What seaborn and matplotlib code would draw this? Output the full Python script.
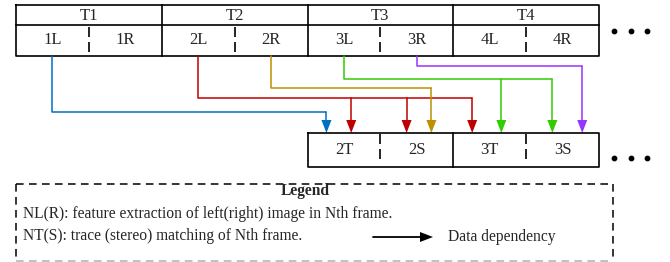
import numpy as np
import seaborn as sns
import matplotlib.pyplot as plt
from matplotlib.patches import Polygon

sns.set_theme(style="white")
plt.rcParams['font.family'] = ['Liberation Serif', 'DejaVu Serif']

# Diagram content
frames = ["T1", "T2", "T3", "T4"]
top_cells = ["1L", "1R", "2L", "2R", "3L", "3R", "4L", "4R"]
bottom_cells = ["2T", "2S", "3T", "3S"]

# dependencies: source cell -> (target cell, slot in target)
dep_sources = ["1L", "2L", "2R", "3L", "3R"]
dep_targets = [[("2T", 0)],
               [("2T", 1), ("2S", 0), ("3T", 0)],
               [("2S", 1)],
               [("3T", 1), ("3S", 0)],
               [("3S", 1)]]
dep_colors = ["#0070C0", "#C00000", "#BF8F00", "#33CC00", "#9933FF"]

legend_title = "Legend"
legend_lines = ["NL(R): feature extraction of left(right) image in Nth frame.",
                "NT(S): trace (stereo) matching of Nth frame."]
legend_arrow_label = "Data dependency"

# Layout (pixel units)
x0, x1 = 16, 599
cw = (x1 - x0) / len(top_cells)
top_y = [5, 25, 56]
bot_y = [133, 167]
bot_x0 = x0 + 4 * cw
lane_y = [112, 98, 88, 79, 66]
slot_frac = [[0.26, 0.60], [0.36, 0.70], [0.26, 0.66], [0.36, 0.77]]
head_len, head_hw = 13, 5
fs_box = 12
fs_leg = 11.2

fig = plt.figure(figsize=(6.7, 2.62), dpi=100)
ax = fig.add_axes([0, 0, 1, 1])
ax.set_xlim(0, 670)
ax.set_ylim(262, 0)
ax.axis('off')

def head(ax, x, y, color, dx=0, dy=1):
    # filled triangle with tip at (x, y), pointing along (dx, dy)
    bx, by = x - dx * head_len, y - dy * head_len
    px, py = -dy * head_hw, dx * head_hw
    ax.add_patch(Polygon([(x, y), (bx + px, by + py), (bx - px, by - py)],
                         closed=True, color=color, lw=0))

# top row boxes
k = dict(color='black', lw=1.2, solid_capstyle='projecting')
ax.plot([x0, x1, x1, x0, x0], [top_y[0], top_y[0], top_y[2], top_y[2], top_y[0]], **k)
ax.plot([x0, x1], [top_y[1], top_y[1]], **k)
for i, f in enumerate(frames):
    left = x0 + 2 * i * cw
    if i > 0:
        ax.plot([left, left], [top_y[0], top_y[2]], **k)
    ax.text(left + cw, (top_y[0] + top_y[1]) / 2 + 0.5, f, ha='center', va='center', fontsize=fs_box)
    ax.plot([left + cw, left + cw], [top_y[1] + 2, top_y[2] - 3], color='black', lw=1.2,
            linestyle=(0, (6, 3)))
for i, c in enumerate(top_cells):
    ax.text(x0 + (i + 0.5) * cw, (top_y[1] + top_y[2]) / 2, c, ha='center', va='center', fontsize=fs_box)

# bottom row boxes
bx1 = bot_x0 + 4 * cw
ax.plot([bot_x0, bx1, bx1, bot_x0, bot_x0], [bot_y[0], bot_y[0], bot_y[1], bot_y[1], bot_y[0]], **k)
for i, c in enumerate(bottom_cells):
    left = bot_x0 + i * cw
    if i == 2:
        ax.plot([left, left], bot_y, **k)
    elif i % 2 == 1:
        ax.plot([left, left], [bot_y[0] + 1, bot_y[1] - 3], color='black', lw=1.2,
                linestyle=(0, (6, 3)))
    ax.text(left + cw / 2, (bot_y[0] + bot_y[1]) / 2, c, ha='center', va='center', fontsize=fs_box)

# ellipsis dots
for yy in [31, 158]:
    ax.scatter([614, 630.5, 647], [yy] * 3, s=10, color='black', zorder=3)

# dependency arrows
for src, tgts, col, ly in zip(dep_sources, dep_targets, dep_colors, lane_y):
    sx = x0 + (top_cells.index(src) + 0.5) * cw
    txs = []
    for t, slot in tgts:
        j = bottom_cells.index(t)
        txs.append(bot_x0 + j * cw + slot_frac[j][slot] * cw)
    ax.plot([sx, sx, max(txs)], [top_y[2], ly, ly], color=col, lw=1.1)
    for tx in txs:
        ax.plot([tx, tx], [ly, bot_y[0] - head_len + 1], color=col, lw=1.1)
        head(ax, tx, bot_y[0], col)

# legend box
lx0, lx1, ly0, ly1 = 16, 613, 184, 260.5
dash = dict(lw=1.1, linestyle=(0, (5, 3.5)))
ax.plot([lx0, lx1], [ly0, ly0], color='black', **dash)
ax.plot([lx0, lx0], [ly0, ly1], color='black', **dash)
ax.plot([lx1, lx1], [ly0, ly1], color='black', **dash)
ax.plot([lx0, lx1], [ly1, ly1], color='#b0b0b0', **dash)
ax.text(305, 191, legend_title, ha='center', va='center', fontsize=fs_leg, fontweight='bold')
for i, line in enumerate(legend_lines):
    ax.text(23, 214.5 + 21.5 * i, line, ha='left', va='center', fontsize=fs_leg)
ax.plot([373, 433 - head_len + 1], [237, 237], color='black', lw=1.3)
head(ax, 433, 237, 'black', dx=1, dy=0)
ax.text(448, 237, legend_arrow_label, ha='left', va='center', fontsize=fs_leg)

fig.savefig('out.png', dpi=100)
